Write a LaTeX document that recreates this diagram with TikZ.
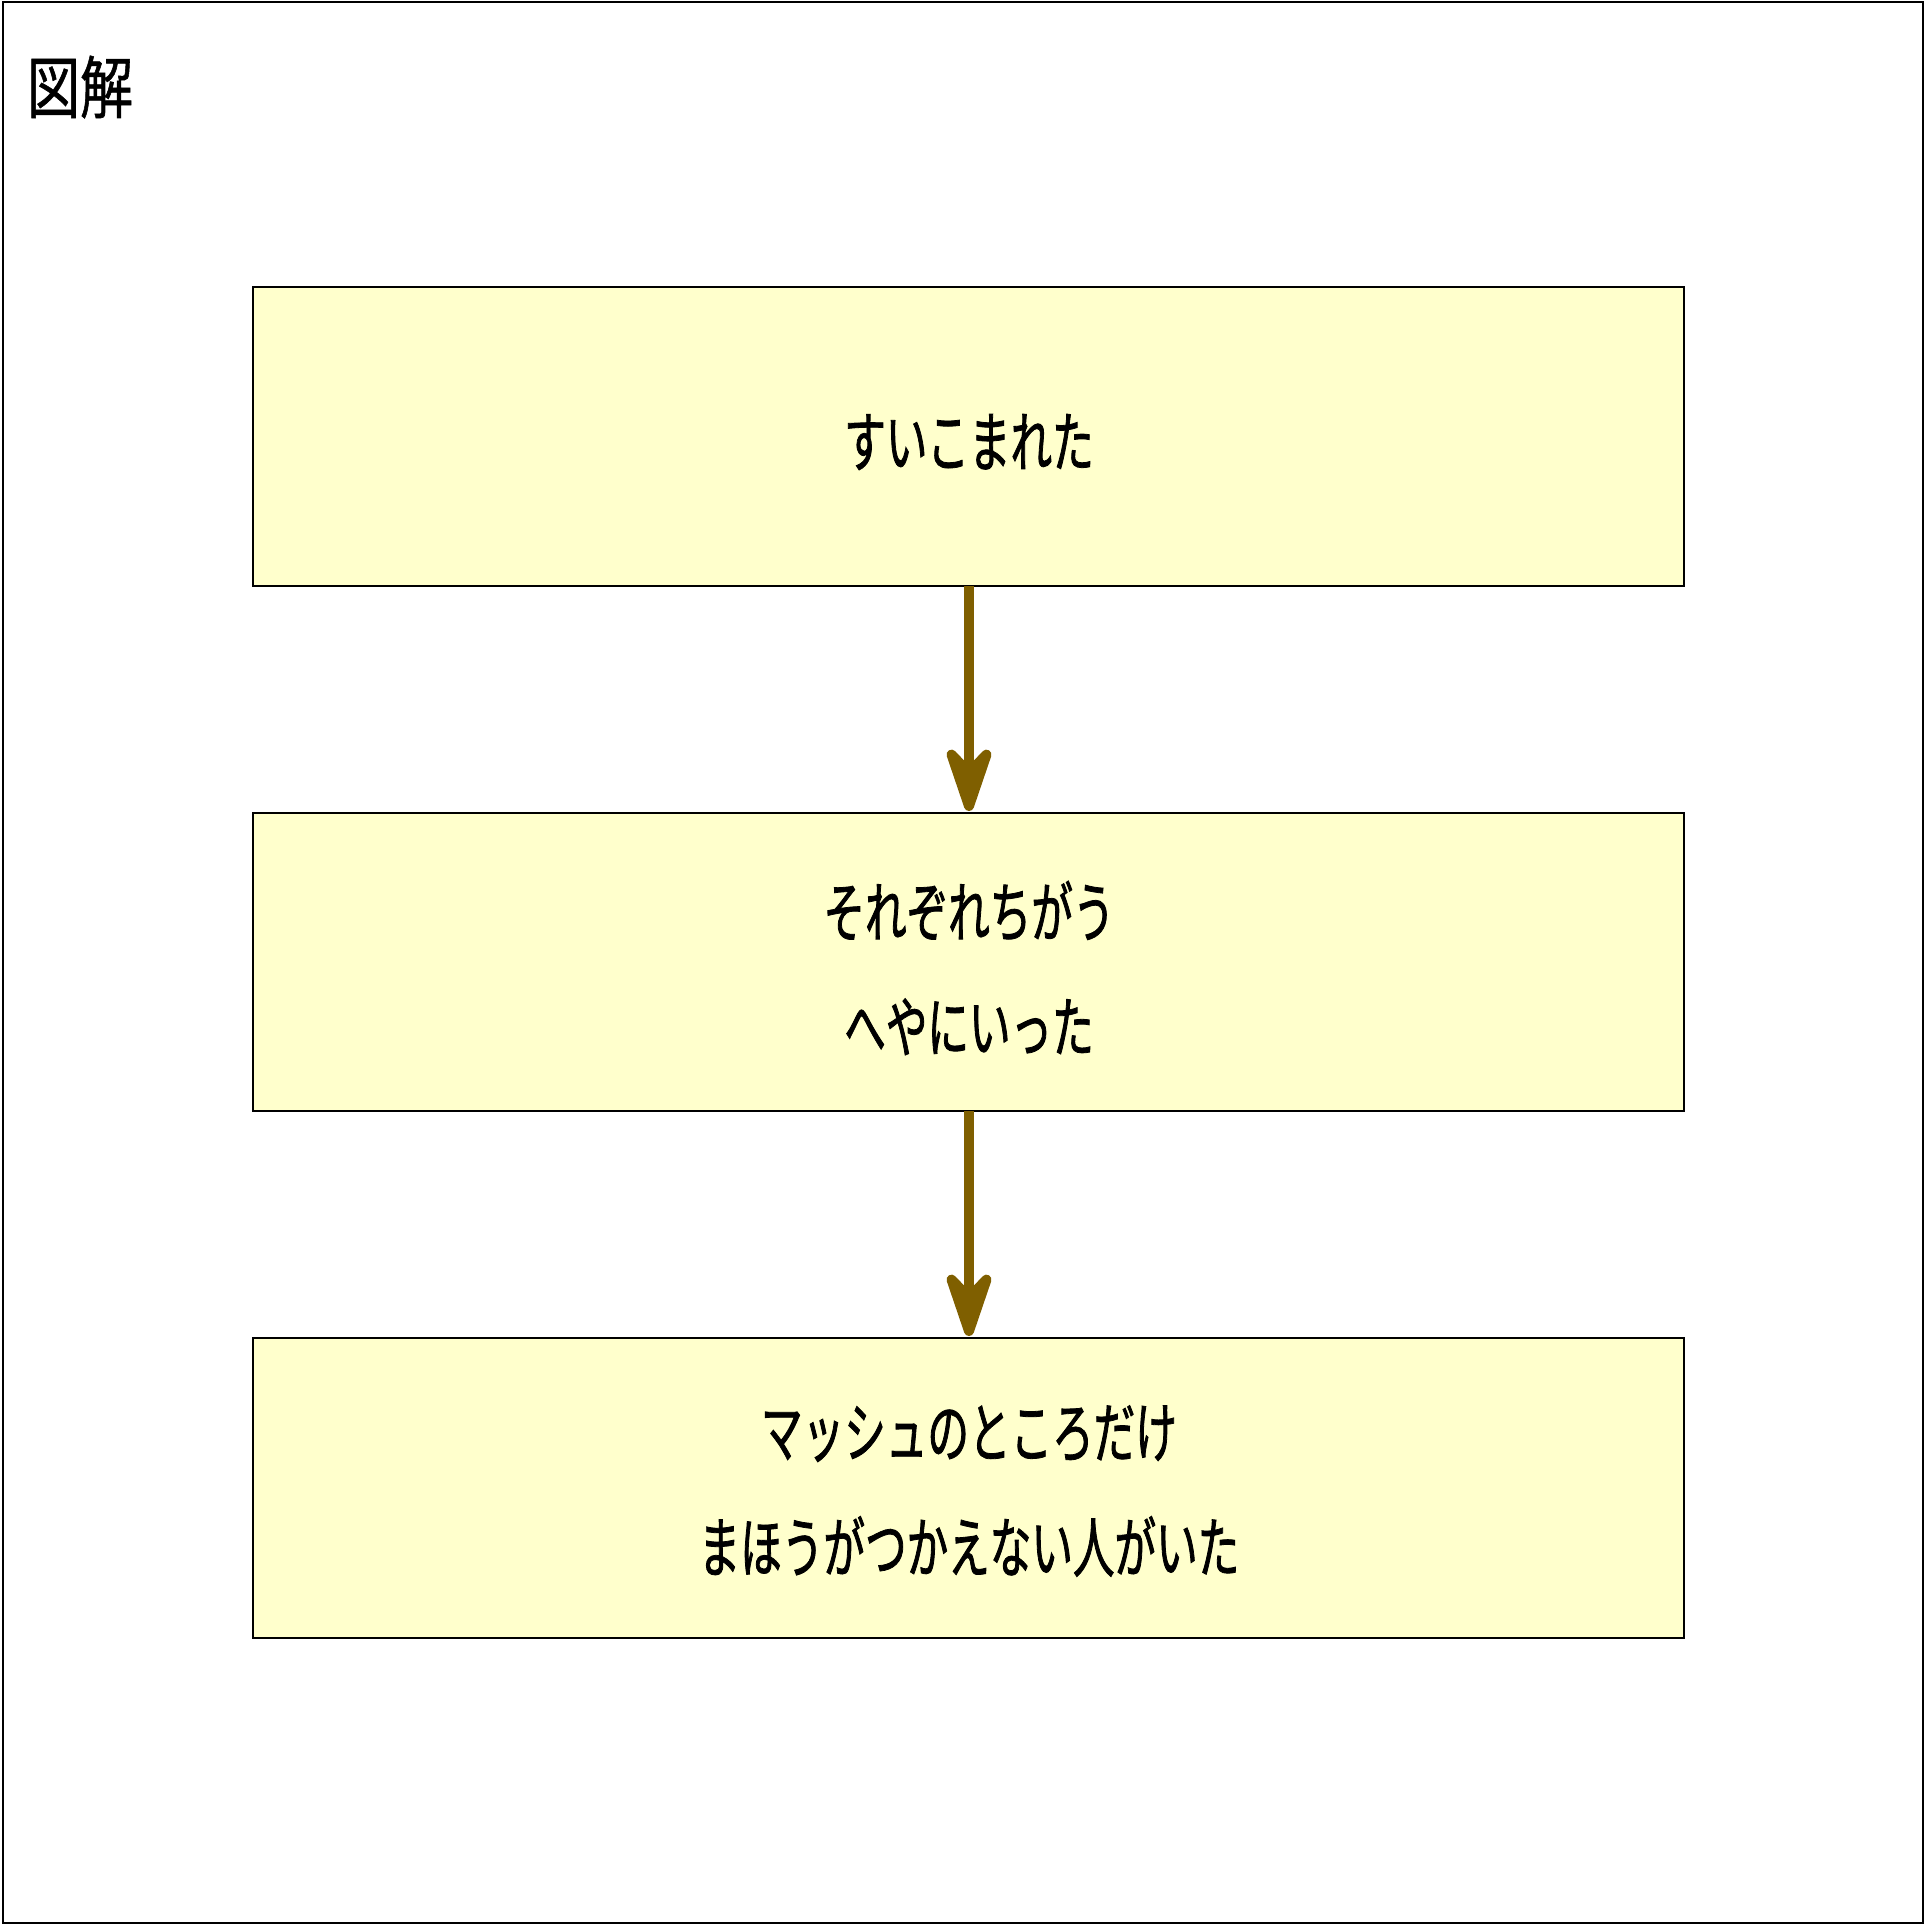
\documentclass[tikz,border=0pt]{standalone}
\usepackage{fontspec}
\newfontfamily\jp[FakeStretch=0.63,FakeBold=1.2]{Noto Sans CJK JP}
\newfontfamily\jptitle[FakeStretch=0.78,FakeBold=0.8]{Noto Sans CJK JP}
\usetikzlibrary{arrows.meta}
\definecolor{boxfill}{HTML}{FFFFCC}
\definecolor{arrowc}{HTML}{7F5F00}
\tikzset{
  stepbox/.style={draw=black, line width=1.5pt, fill=boxfill},
  boxtext/.style={font=\jp\fontsize{66}{115}\selectfont, align=center, inner sep=0pt},
  flowarrow/.style={draw=arrowc, line width=10pt,
    -{Stealth[length=86pt,width=58pt,inset=30pt,round]}}
}
\begin{document}
\begin{tikzpicture}[x=1pt,y=-1pt]
\useasboundingbox (0,0) rectangle (1925,1925);
\draw[line width=2pt] (3,2) rectangle (1923,1923);
\node[font=\jptitle\fontsize{68}{70}\selectfont, inner sep=0pt] (title) at (80,87) {図解};
\draw[stepbox] (253,287) rectangle (1684,586);
\coordinate (b1) at (968.5,436.5);
\draw[stepbox] (253,813) rectangle (1684,1111);
\coordinate (b2) at (968.5,962);
\draw[stepbox] (253,1338) rectangle (1684,1638);
\coordinate (b3) at (968.5,1488);
\node[boxtext] (t1) at (969,442) {すいこまれた};
\node[boxtext] (t2) at (969,968) {それぞれちがう\\へやにいった};
\node[boxtext] (t3) at (969,1491) {マッシュのところだけ\\まほうがつかえない人がいた};
\coordinate (a1s) at (969,586);
\coordinate (a1e) at (969,811);
\coordinate (a2s) at (969,1111);
\coordinate (a2e) at (969,1336);
\draw[flowarrow] (a1s) -- (a1e);
\draw[flowarrow] (a2s) -- (a2e);
\end{tikzpicture}
\end{document}
